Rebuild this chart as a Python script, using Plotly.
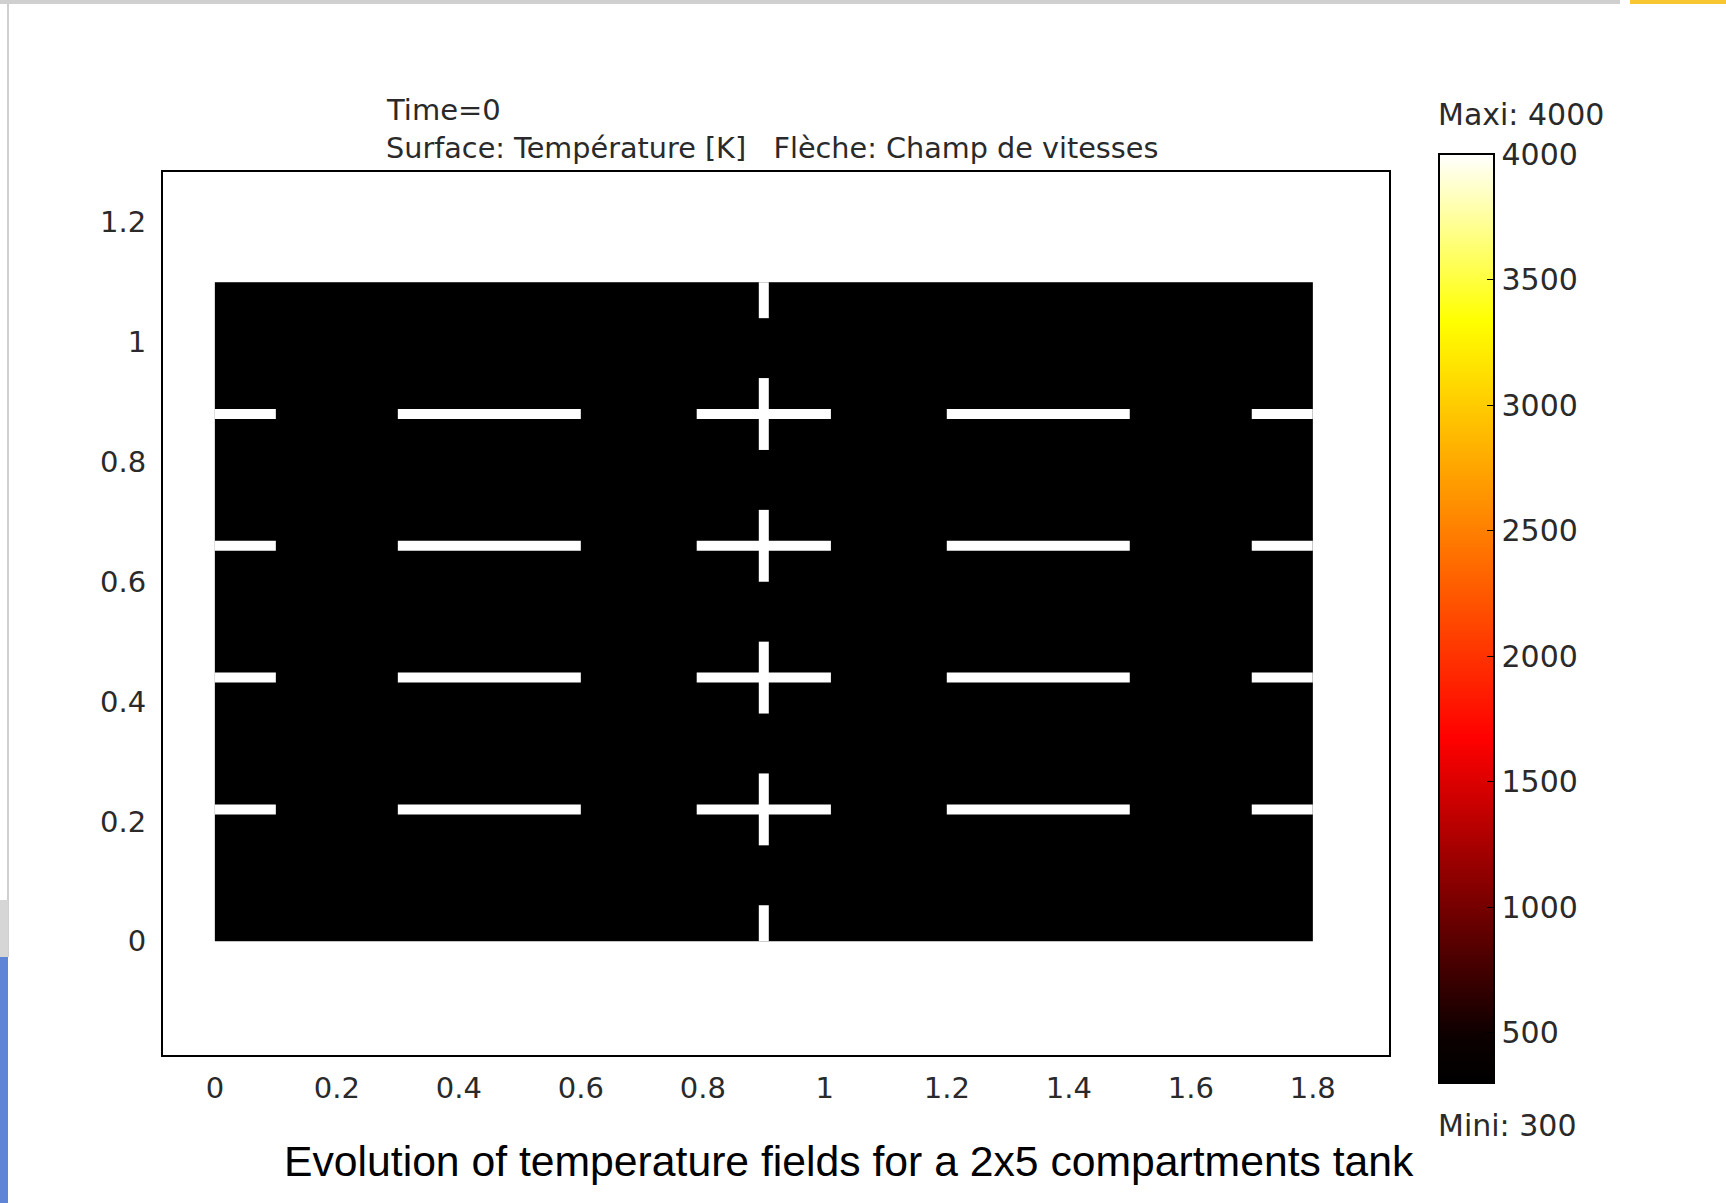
import plotly.graph_objects as go

# ---- data ----
domain_x = [0.0, 1.8]
domain_y = [0.0, 1.1]
temperature = [[300]]          # Time = 0 : whole tank at 300 K
t_min, t_max = 300, 4000
cbar_ticks = [500, 1000, 1500, 2000, 2500, 3000, 3500, 4000]

wall_levels_y = [0.22, 0.44, 0.66, 0.88]
wall_segments_x = [(0.0, 0.1), (0.3, 0.6), (0.79, 1.01), (1.2, 1.5), (1.7, 1.8)]
mid_wall_x = 0.9
mid_wall_segments_y = [(0.0, 0.06), (0.16, 0.28), (0.38, 0.50), (0.60, 0.72), (0.82, 0.94), (1.04, 1.1)]

x_ticks = [0, 0.2, 0.4, 0.6, 0.8, 1, 1.2, 1.4, 1.6, 1.8]
y_ticks = [0, 0.2, 0.4, 0.6, 0.8, 1, 1.2]

hot = [[0.0, "rgb(0,0,0)"], [0.05, "rgb(12,0,0)"], [0.37, "rgb(255,0,0)"],
       [0.82, "rgb(255,255,0)"], [1.0, "rgb(255,255,255)"]]

TXT = "DejaVu Sans"
TXTC = "#2a2a2a"

fig = go.Figure()

fig.add_trace(go.Heatmap(
    x=domain_x, y=domain_y, z=temperature,
    zmin=t_min, zmax=t_max, colorscale=hot, hoverinfo="skip",
    colorbar=dict(
        x=1.0408, xanchor="left", xpad=0,
        y=0.4943, yanchor="middle", ypad=0,
        lenmode="pixels", len=929, thickness=55,
        outlinecolor="black", outlinewidth=2,
        tickvals=cbar_ticks, ticks="inside", ticklen=8, tickcolor="black",
        tickfont=dict(family=TXT, size=30, color=TXTC),
    ),
))

hx, hy = [], []
for yv in wall_levels_y:
    for x0, x1 in wall_segments_x:
        hx += [x0, x1, None]
        hy += [yv, yv, None]
fig.add_trace(go.Scatter(x=hx, y=hy, mode="lines",
                         line=dict(color="white", width=10), hoverinfo="skip", showlegend=False))

vx, vy = [], []
for y0, y1 in mid_wall_segments_y:
    vx += [mid_wall_x, mid_wall_x, None]
    vy += [y0, y1, None]
fig.add_trace(go.Scatter(x=vx, y=vy, mode="lines",
                         line=dict(color="white", width=10), hoverinfo="skip", showlegend=False))

axis_common = dict(showgrid=False, zeroline=False, showline=True, mirror=True,
                   linecolor="black", linewidth=2, ticks="",
                   tickfont=dict(family=TXT, size=29, color=TXTC))

fig.update_xaxes(range=[-0.085, 1.925], tickvals=x_ticks, ticklabelstandoff=6, **axis_common)
fig.update_yaxes(range=[-0.190, 1.284], tickvals=y_ticks, ticklabelstandoff=9, **axis_common)

ann = []
ann.append(dict(text="Time=0", x=0.1803, y=1.0702, xref="paper", yref="paper",
                xanchor="left", yanchor="middle", showarrow=False,
                font=dict(family=TXT, size=29, color=TXTC)))
ann.append(dict(text="Surface: Température [K]\u00a0\u00a0\u00a0Flèche: Champ de vitesses",
                x=0.1803, y=1.0277, xref="paper", yref="paper",
                xanchor="left", yanchor="middle", showarrow=False,
                font=dict(family=TXT, size=28.7, color=TXTC)))
ann.append(dict(text="Maxi: 4000", x=1.0387, y=1.0651, xref="paper", yref="paper",
                xanchor="left", yanchor="middle", showarrow=False,
                font=dict(family=TXT, size=30, color=TXTC)))
ann.append(dict(text="Mini: 300", x=1.0387, y=-0.0793, xref="paper", yref="paper",
                xanchor="left", yanchor="middle", showarrow=False,
                font=dict(family=TXT, size=30, color=TXTC)))
ann.append(dict(text="Evolution of temperature fields for a 2x5 compartments tank",
                x=0.5593, y=-0.120, xref="paper", yref="paper",
                xanchor="center", yanchor="middle", showarrow=False,
                font=dict(family="Liberation Sans, Arial", size=42.7, color="black")))

# screenshot frame artefacts (paper coords: px_x = 163 + u*1226, px_y = 1055 - v*883)
def ux(px):
    return (px - 163) / 1226
def vy_(py):
    return (1055 - py) / 883

shapes = [
    dict(type="rect", xref="paper", yref="paper", x0=ux(0), x1=ux(1620), y0=vy_(0), y1=vy_(4),
         fillcolor="#cfcfcf", line=dict(width=0), layer="above"),
    dict(type="rect", xref="paper", yref="paper", x0=ux(1630), x1=ux(1726), y0=vy_(0), y1=vy_(4),
         fillcolor="#f7c630", line=dict(width=0), layer="above"),
    dict(type="line", xref="paper", yref="paper", x0=ux(8), x1=ux(8), y0=vy_(4), y1=vy_(957),
         line=dict(color="#cfcfcf", width=2), layer="above"),
    dict(type="rect", xref="paper", yref="paper", x0=ux(0), x1=ux(8), y0=vy_(900), y1=vy_(957),
         fillcolor="#d6d6d6", line=dict(width=0), layer="above"),
    dict(type="rect", xref="paper", yref="paper", x0=ux(0), x1=ux(8), y0=vy_(957), y1=vy_(1203),
         fillcolor="#5f86d6", line=dict(width=0), layer="above"),
]

fig.update_layout(
    width=1726, height=1203, autosize=False,
    margin=dict(l=163, r=337, t=172, b=148, pad=0),
    paper_bgcolor="white", plot_bgcolor="white",
    showlegend=False, annotations=ann, shapes=shapes,
)

fig.write_html("out.html")
